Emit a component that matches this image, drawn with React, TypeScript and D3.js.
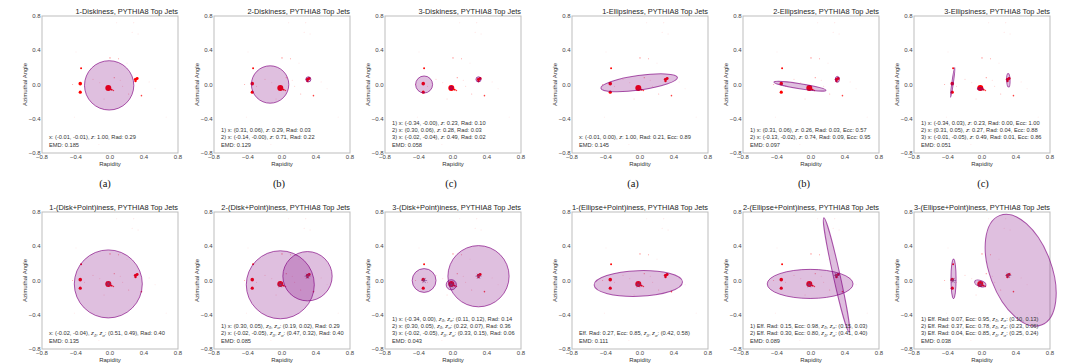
import React from 'react';
import * as d3 from 'd3';

// ---- data ----
const panelTitles = [
  '1-Diskiness, PYTHIA8 Top Jets',
  '2-Diskiness, PYTHIA8 Top Jets',
  '3-Diskiness, PYTHIA8 Top Jets',
  '1-Ellipsiness, PYTHIA8 Top Jets',
  '2-Ellipsiness, PYTHIA8 Top Jets',
  '3-Ellipsiness, PYTHIA8 Top Jets',
  '1-(Disk+Point)iness, PYTHIA8 Top Jets',
  '2-(Disk+Point)iness, PYTHIA8 Top Jets',
  '3-(Disk+Point)iness, PYTHIA8 Top Jets',
  '1-(Ellipse+Point)iness, PYTHIA8 Top Jets',
  '2-(Ellipse+Point)iness, PYTHIA8 Top Jets',
  '3-(Ellipse+Point)iness, PYTHIA8 Top Jets',
];

const captions = ['(a)', '(b)', '(c)', '(a)', '(b)', '(c)'];
const tickValues = [-0.8, -0.4, 0.0, 0.4, 0.8];

// jet constituents: [rapidity, azimuth, pt fraction]
const particles: [number, number, number][] = [
  [-0.02, -0.04, 0.3],
  [0.0, -0.05, 0.033],
  [0.02, -0.06, 0.03],
  [0.04, -0.07, 0.021],
  [-0.35, 0.01, 0.108],
  [-0.35, -0.09, 0.085],
  [0.3, 0.06, 0.085],
  [0.32, 0.07, 0.065],
  [0.3, 0.04, 0.048],
  [-0.34, 0.19, 0.03],
  [0.37, -0.13, 0.021],
  [0.0, 0.31, 0.014],
  [0.1, 0.3, 0.01],
  [0.05, 0.08, 0.012],
  [-0.44, 0.0, 0.009],
  [0.22, -0.11, 0.009],
  [-0.07, -0.17, 0.007],
  [-0.2, 0.06, 0.008],
  [0.15, -0.02, 0.007],
  [0.46, 0.03, 0.006],
  [0.28, 0.72, 0.007],
  [0.08, 0.72, 0.005],
  [0.26, 0.61, 0.005],
  [0.33, 0.59, 0.005],
  [-0.4, 0.38, 0.004],
  [0.66, -0.38, 0.004],
  [-0.42, -0.38, 0.004],
  [-0.13, -0.7, 0.004],
  [0.2, 0.25, 0.005],
  [0.53, -0.05, 0.005],
  [-0.12, 0.02, 0.006],
  [0.12, 0.05, 0.006],
  [-0.3, -0.02, 0.008],
];

// disks: [panel, cx, cy, radius]
const disks: [number, number, number, number][] = [
  [0, -0.01, -0.01, 0.29],
  [1, 0.31, 0.06, 0.03],
  [1, -0.14, 0.0, 0.22],
  [2, -0.34, 0.0, 0.1],
  [2, 0.3, 0.06, 0.03],
  [2, -0.02, -0.04, 0.02],
  [6, -0.02, -0.04, 0.4],
  [7, 0.3, 0.05, 0.29],
  [7, -0.02, -0.05, 0.4],
  [8, -0.34, 0.0, 0.14],
  [8, 0.3, 0.05, 0.36],
  [8, -0.02, -0.05, 0.06],
];

// ellipses: [panel, cx, cy, semi-major, semi-minor, angle deg]
const ellipses: [number, number, number, number, number, number][] = [
  [3, -0.01, 0.02, 0.455, 0.085, 8],
  [4, 0.31, 0.06, 0.035, 0.024, 90],
  [4, -0.13, -0.02, 0.31, 0.03, -9],
  [5, -0.345, 0.025, 0.177, 0.009, 82],
  [5, 0.31, 0.05, 0.08, 0.02, 92],
  [5, -0.02, -0.05, 0.035, 0.015, -5],
  [9, -0.02, -0.035, 0.52, 0.15, 2],
  [10, 0.3, 0.065, 0.69, 0.04, 102.5],
  [10, -0.01, -0.04, 0.505, 0.17, 0],
  [11, -0.335, 0.02, 0.235, 0.03, 90],
  [11, 0.455, 0.12, 0.69, 0.36, 110.7],
  [11, -0.02, -0.035, 0.07, 0.035, -20],
];

// point components: [panel, x, y]
const pointMarks: [number, number, number][] = [
  [6, -0.02, -0.04],
  [7, 0.3, 0.05],
  [7, -0.02, -0.05],
  [8, -0.34, 0.0],
  [8, 0.3, 0.05],
  [8, -0.02, -0.05],
  [9, -0.02, -0.05],
  [10, 0.3, 0.06],
  [10, -0.02, -0.05],
  [11, -0.34, 0.0],
  [11, 0.31, 0.06],
  [11, -0.02, -0.05],
];

const annotations: string[][] = [
  ['x: (-0.01, -0.01), z: 1.00, Rad: 0.29', 'EMD: 0.185'],
  ['1) x: (0.31, 0.06), z: 0.29, Rad: 0.03', '2) x: (-0.14, -0.00), z: 0.71, Rad: 0.22', 'EMD: 0.129'],
  ['1) x: (-0.34, -0.00), z: 0.23, Rad: 0.10', '2) x: (0.30, 0.06), z: 0.28, Rad: 0.03', '3) x: (-0.02, -0.04), z: 0.49, Rad: 0.02', 'EMD: 0.058'],
  ['x: (-0.01, 0.00), z: 1.00, Rad: 0.21, Ecc: 0.89', 'EMD: 0.145'],
  ['1) x: (0.31, 0.06), z: 0.26, Rad: 0.03, Ecc: 0.57', '2) x: (-0.13, -0.02), z: 0.74, Rad: 0.09, Ecc: 0.95', 'EMD: 0.097'],
  ['1) x: (-0.34, 0.03), z: 0.23, Rad: 0.00, Ecc: 1.00', '2) x: (0.31, 0.05), z: 0.27, Rad: 0.04, Ecc: 0.88', '3) x: (-0.01, -0.05), z: 0.49, Rad: 0.01, Ecc: 0.86', 'EMD: 0.051'],
  ['x: (-0.02, -0.04), z_δ, z_σ: (0.51, 0.49), Rad: 0.40', 'EMD: 0.135'],
  ['1) x: (0.30, 0.05), z_δ, z_σ: (0.19, 0.02), Rad: 0.29', '2) x: (-0.02, -0.05), z_δ, z_σ: (0.47, 0.32), Rad: 0.40', 'EMD: 0.085'],
  ['1) x: (-0.34, 0.00), z_δ, z_σ: (0.11, 0.12), Rad: 0.14', '2) x: (0.30, 0.05), z_δ, z_σ: (0.22, 0.07), Rad: 0.36', '3) x: (-0.02, -0.05), z_δ, z_σ: (0.33, 0.15), Rad: 0.06', 'EMD: 0.043'],
  ['Eff. Rad: 0.27, Ecc: 0.85, z_δ, z_σ: (0.42, 0.58)', 'EMD: 0.111'],
  ['1) Eff. Rad: 0.15, Ecc: 0.98, z_δ, z_σ: (0.15, 0.03)', '2) Eff. Rad: 0.30, Ecc: 0.80, z_δ, z_σ: (0.41, 0.40)', 'EMD: 0.089'],
  ['1) Eff. Rad: 0.07, Ecc: 0.95, z_δ, z_σ: (0.10, 0.13)', '2) Eff. Rad: 0.37, Ecc: 0.78, z_δ, z_σ: (0.23, 0.06)', '3) Eff. Rad: 0.04, Ecc: 0.85, z_δ, z_σ: (0.25, 0.24)', 'EMD: 0.038'],
];

// ---- layout ----
const WIDTH = 1066;
const HEIGHT = 363;
const panelLefts = [42, 214, 385, 572, 743, 914];
const rowTops = [16, 212];
const boxW = 136;
const boxH = 137;
const captionX = [105, 279, 451, 633, 804, 983];
const captionY = 187;

const SANS = 'Liberation Sans, Arial, Helvetica, sans-serif';
const PURPLE = 'purple';

const fmt = d3.format('.1f');
const sizeScale = d3.scaleSqrt().domain([0, 0.3]).range([0, 3]).clamp(true);
const alphaScale = d3.scaleLinear().domain([0.004, 0.03]).range([0.22, 1]).clamp(true);

const renderRich = (s: string) => {
  const out: React.ReactNode[] = [];
  let pending = 0;
  s.split(/(z_.|z(?=:))/).forEach((p, i) => {
    if (!p) return;
    if (p.startsWith('z_')) {
      out.push(<tspan key={i + 'a'} fontStyle="italic" dy={pending || undefined}>z</tspan>);
      out.push(<tspan key={i + 'b'} fontStyle="italic" fontSize="75%" dy={1.3}>{p[2]}</tspan>);
      pending = -1.3;
    } else if (p === 'z') {
      out.push(<tspan key={i} fontStyle="italic" dy={pending || undefined}>z</tspan>);
      pending = 0;
    } else {
      out.push(<tspan key={i} dy={pending || undefined}>{p}</tspan>);
      pending = 0;
    }
  });
  return out;
};

const starPath = (r: number) => {
  const p = d3.path();
  [0, 60, 120].forEach((deg) => {
    const a = (deg * Math.PI) / 180;
    p.moveTo(-r * Math.cos(a), -r * Math.sin(a));
    p.lineTo(r * Math.cos(a), r * Math.sin(a));
  });
  return p.toString();
};

const Panel = ({ idx }: { idx: number }) => {
  const col = idx % 6;
  const row = Math.floor(idx / 6);
  const left = panelLefts[col];
  const top = rowTops[row];
  const x = d3.scaleLinear().domain([-0.8, 0.8]).range([left, left + boxW]);
  const y = d3.scaleLinear().domain([-0.8, 0.8]).range([top + boxH, top]);
  const kx = boxW / 1.6;
  const ky = boxH / 1.6;
  const lines = annotations[idx];
  const bottom = top + boxH;

  return (
    <g>
      <rect x={left} y={top} width={boxW} height={boxH} fill="white" stroke="#bdbdbd" strokeWidth={1} />
      {particles.map(([px, py, pt], i) => (
        <circle key={i} cx={x(px)} cy={y(py)} r={Math.max(0.4, sizeScale(pt))} fill="#ff0000" fillOpacity={alphaScale(pt)} />
      ))}
      {disks.filter((d) => d[0] === idx).map(([, cx, cy, r], i) => (
        <circle key={'d' + i} cx={x(cx)} cy={y(cy)} r={r * kx} fill={PURPLE} fillOpacity={0.25}
          stroke={PURPLE} strokeOpacity={0.65} strokeWidth={1} />
      ))}
      {ellipses.filter((d) => d[0] === idx).map(([, cx, cy, a, b, ang], i) => (
        <ellipse key={'e' + i} cx={0} cy={0} rx={a * kx} ry={b * ky}
          transform={`translate(${x(cx)},${y(cy)}) rotate(${-ang})`}
          fill={PURPLE} fillOpacity={0.25} stroke={PURPLE} strokeOpacity={0.65} strokeWidth={1} />
      ))}
      {pointMarks.filter((d) => d[0] === idx).map(([, px, py], i) => (
        <path key={'p' + i} d={starPath(3)} transform={`translate(${x(px)},${y(py)})`}
          stroke="#7a3c8a" strokeOpacity={0.8} strokeWidth={0.7} fill="none" />
      ))}
      {/* title */}
      <text x={left + boxW} y={top - 1.8} textAnchor="end" fontFamily={SANS} fontSize={7.4} fill="#262626">
        {panelTitles[idx]}
      </text>
      {/* ticks */}
      {tickValues.map((t) => (
        <text key={'y' + t} x={left - 1.5} y={y(t)} dy="0.35em" textAnchor="end" fontFamily={SANS} fontSize={6} fill="#444">
          {fmt(t)}
        </text>
      ))}
      {tickValues.map((t) => (
        <text key={'x' + t} x={x(t)} y={bottom + 6.3} textAnchor="middle" fontFamily={SANS} fontSize={6} fill="#444">
          {fmt(t)}
        </text>
      ))}
      <text x={left + boxW / 2} y={bottom + 12.5} textAnchor="middle" fontFamily={SANS} fontSize={6} fill="#333">
        Rapidity
      </text>
      <text transform={`translate(${left - 15.5},${top + boxH / 2}) rotate(-90)`} textAnchor="middle"
        fontFamily={SANS} fontSize={6} fill="#333">
        Azimuthal Angle
      </text>
      {/* fit annotations */}
      {lines.map((l, i) => (
        <text key={'a' + i} x={left + 7} y={bottom - 6.5 - (lines.length - 1 - i) * 7.3}
          fontFamily={SANS} fontSize={5.7} fill="#333">
          {renderRich(l)}
        </text>
      ))}
    </g>
  );
};

export default function App() {
  return (
    <svg width={WIDTH} height={HEIGHT} style={{ position: 'absolute', left: 0, top: 0, background: 'white' }}>
      <rect width={WIDTH} height={HEIGHT} fill="white" />
      {panelTitles.map((_, i) => (
        <Panel key={i} idx={i} />
      ))}
      {captions.map((c, i) => (
        <text key={i} x={captionX[i]} y={captionY} textAnchor="middle" fontFamily="Liberation Serif, DejaVu Serif, serif"
          fontSize={10.5} fill="#111">
          {c}
        </text>
      ))}
    </svg>
  );
}
